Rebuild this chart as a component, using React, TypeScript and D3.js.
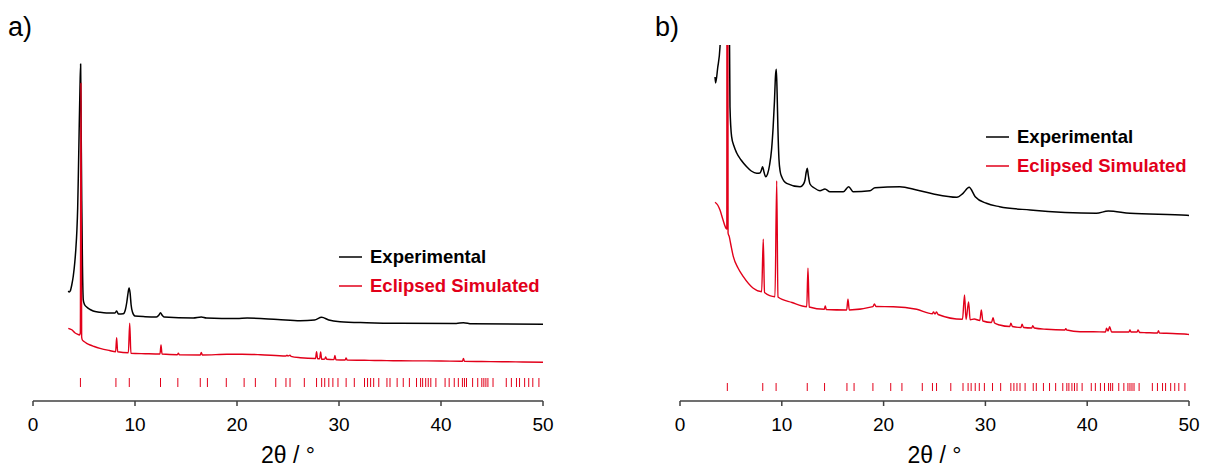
import React from "react";
import * as d3 from "d3";

// 2θ positions of the simulated reflections (tick marks)
const reflections: number[] = [
  4.65, 8.13, 9.44, 12.5, 14.2, 16.4, 17.1, 18.95, 20.7, 21.8, 23.8, 24.8, 25.2, 26.6,
  27.8, 28.3, 28.6, 29.0, 29.4, 29.9, 30.7, 31.5, 32.5, 32.8, 33.1, 33.4, 33.9, 34.7, 35.0,
  35.7, 36.3, 36.9, 37.6, 38.0, 38.2, 38.5, 38.75, 39.0, 39.5, 40.4, 40.8, 41.3, 41.7, 42.1,
  42.3, 42.5, 43.1, 43.6, 44.0, 44.2, 44.4, 44.6, 45.1, 46.4, 46.9, 47.4, 47.7, 48.2, 48.6,
  49.0, 49.6,
];

// Panel a) experimental pattern [2θ, intensity a.u.]
const expA: [number, number][] = [
  [3.46, 1100], [3.55, 1090], [3.65, 1100], [3.8, 1160], [3.95, 1250], [4.1, 1390], [4.2, 1520],
  [4.3, 1700], [4.38, 1930], [4.45, 2280], [4.52, 2680], [4.6, 3100], [4.67, 3370], [4.72, 2750],
  [4.78, 2000], [4.85, 1350], [4.93, 1010], [5.05, 965], [5.26, 940], [5.6, 915], [5.9, 900],
  [6.5, 888], [7.2, 880], [8.04, 880], [8.2, 900], [8.37, 870], [8.85, 872], [9.05, 910],
  [9.2, 990], [9.32, 1080], [9.42, 1130], [9.52, 1080], [9.62, 960], [9.75, 890], [10.0, 850],
  [11.0, 843], [12.1, 840], [12.35, 860], [12.5, 882], [12.65, 860], [12.85, 840], [15.7, 830],
  [16.5, 840], [17.0, 830], [20.0, 825], [21.0, 830], [24.0, 815], [26.2, 803], [27.6, 810],
  [28.3, 837], [29.0, 810], [30.1, 793], [32.7, 783], [36.0, 777], [41.5, 775], [42.2, 783],
  [43.0, 772], [50.0, 767],
];

// Panel a) eclipsed simulated pattern
const simA: [number, number][] = [
  [3.46, 727], [3.8, 712], [4.1, 683], [4.35, 668], [4.55, 660], [4.64, 680], [4.7, 3177],
  [4.77, 640], [4.84, 610], [5.0, 595], [5.26, 577], [5.6, 560], [6.0, 545], [6.57, 527],
  [7.5, 505], [8.1, 493], [8.2, 633], [8.3, 492], [9.35, 483], [9.48, 777], [9.6, 477],
  [11.0, 473], [12.45, 470], [12.55, 560], [12.65, 470], [14.15, 462], [14.25, 477], [14.35, 461],
  [16.4, 460], [16.5, 485], [16.6, 460], [19.0, 467], [20.5, 468], [22.3, 463], [24.8, 450],
  [24.9, 458], [25.0, 449], [25.2, 457], [25.3, 447], [26.2, 433], [27.7, 425], [27.8, 493],
  [27.9, 423], [28.1, 422], [28.2, 490], [28.3, 418], [28.6, 420], [28.7, 440], [28.8, 418],
  [29.5, 414], [29.6, 455], [29.7, 413], [30.6, 410], [30.7, 430], [30.8, 409], [32.5, 407],
  [33.5, 405], [34.7, 404], [36.0, 402], [38.0, 401], [40.0, 400], [42.1, 397], [42.2, 425],
  [42.3, 397], [44.0, 395], [46.0, 393], [48.0, 390], [50.0, 387],
];

// Panel b) experimental pattern
const expB: [number, number][] = [
  [3.44, 3240], [3.5, 3180], [3.7, 3330], [3.93, 3543], [4.1, 4200], [4.4, 6000], [4.65, 9000],
  [4.8, 4500], [4.91, 2943], [5.07, 2643], [5.3, 2550], [5.57, 2480], [6.0, 2410], [6.55, 2343],
  [7.0, 2300], [7.53, 2277], [7.86, 2280], [8.0, 2310], [8.12, 2343], [8.25, 2290], [8.42, 2243],
  [8.6, 2270], [8.8, 2360], [9.0, 2520], [9.15, 2740], [9.28, 3000], [9.38, 3250], [9.46, 3317],
  [9.54, 3080], [9.62, 2720], [9.72, 2420], [9.85, 2290], [9.99, 2243], [10.48, 2177],
  [11.8, 2143], [12.1, 2165], [12.28, 2210], [12.4, 2290], [12.5, 2327], [12.6, 2260],
  [12.77, 2170], [13.2, 2130], [13.75, 2103], [14.24, 2120], [14.73, 2093], [16.04, 2093],
  [16.57, 2143], [17.0, 2093], [18.66, 2103], [19.15, 2133], [21.6, 2143], [23.25, 2110],
  [24.9, 2070], [27.2, 2037], [27.8, 2077], [28.4, 2137], [29.0, 2043], [30.1, 1977],
  [31.4, 1943], [34.4, 1910], [40.9, 1877], [42.07, 1900], [44.2, 1877], [49.8, 1857],
  [50.0, 1855],
];

// Panel b) eclipsed simulated pattern
const simB: [number, number][] = [
  [3.44, 1987], [3.7, 1960], [3.93, 1910], [4.2, 1820], [4.52, 1727], [4.6, 1720], [4.65, 14000],
  [4.72, 1680], [4.84, 1643], [5.0, 1560], [5.24, 1443], [5.7, 1330], [6.22, 1243], [7.2, 1127],
  [8.02, 1093], [8.18, 1617], [8.3, 1085], [9.33, 1043], [9.5, 2203], [9.62, 1040], [11.0, 985],
  [12.45, 943], [12.57, 1327], [12.69, 940], [14.17, 917], [14.27, 950], [14.37, 915],
  [16.37, 910], [16.5, 1017], [16.63, 910], [18.95, 943], [19.1, 970], [19.25, 945],
  [20.95, 943], [23.25, 917], [24.8, 873], [24.9, 890], [25.05, 870], [25.2, 890], [25.35, 865],
  [27.75, 817], [27.95, 1060], [28.1, 815], [28.35, 990], [28.5, 813], [28.9, 820], [29.45, 805],
  [29.6, 910], [29.75, 800], [30.6, 785], [30.75, 833], [30.9, 780], [31.4, 760], [32.4, 745],
  [32.5, 777], [32.65, 745], [33.5, 735], [33.6, 767], [33.75, 735], [34.55, 730], [34.65, 753],
  [34.8, 730], [36.0, 717], [37.8, 710], [37.9, 723], [38.0, 710], [39.3, 693], [40.6, 693],
  [41.8, 690], [41.9, 727], [42.05, 700], [42.2, 743], [42.4, 690], [44.1, 690], [44.2, 710],
  [44.3, 690], [44.9, 690], [45.0, 710], [45.15, 685], [45.8, 683], [46.9, 680], [47.0, 703],
  [47.1, 680], [47.8, 677], [49.8, 667], [50.0, 665],
];

const xTicks: number[] = [0, 10, 20, 30, 40, 50];
const seriesNames: string[] = ["Experimental", "Eclipsed Simulated"];
const panelLabels: string[] = ["a)", "b)"];

const BLACK = "#000000";
const RED = "#e2001a";
const AXIS = "#404040";
const FONT = "'Liberation Sans', Arial, Helvetica, sans-serif";

type PanelProps = {
  id: string;
  label: string;
  x0: number;
  x1: number;
  exp: [number, number][];
  sim: [number, number][];
  tickTop: number;
  tickBottom: number;
  legendX: number;
  legendY: number;
  labelX: number;
};

function Panel(p: PanelProps) {
  const axisY = 401;
  const top = 45;
  const x = d3.scaleLinear().domain([0, 50]).range([p.x0, p.x1]);
  const y = d3.scaleLinear().domain([0, 3560]).range([axisY, top]);
  const line = d3
    .line<[number, number]>()
    .x((d) => x(d[0]))
    .y((d) => y(d[1]))
    .curve(d3.curveMonotoneX);
  const clipId = `clip-${p.id}`;
  return (
    <g>
      <defs>
        <clipPath id={clipId}>
          <rect x={p.x0} y={top} width={p.x1 - p.x0 + 2} height={axisY - top} />
        </clipPath>
      </defs>
      <text x={p.labelX} y={36} fontSize={27} fontFamily={FONT} fill="#000">
        {p.label}
      </text>
      <g clipPath={`url(#${clipId})`}>
        <path d={line(p.exp) || ""} fill="none" stroke={BLACK} strokeWidth={1.5} strokeLinejoin="round" />
        <path d={line(p.sim) || ""} fill="none" stroke={RED} strokeWidth={1.4} strokeLinejoin="round" />
      </g>
      {reflections.map((r, i) => (
        <line key={i} x1={x(r)} x2={x(r)} y1={p.tickTop} y2={p.tickBottom} stroke={RED} strokeWidth={1} />
      ))}
      {/* x axis */}
      <line x1={x(0)} x2={x(50)} y1={axisY} y2={axisY} stroke={AXIS} strokeWidth={1.5} />
      {xTicks.map((t) => (
        <g key={t}>
          <line x1={x(t)} x2={x(t)} y1={axisY} y2={axisY + 5} stroke={AXIS} strokeWidth={1.5} />
          <text x={x(t)} y={431} fontSize={19} fontFamily={FONT} textAnchor="middle" fill="#000">
            {t}
          </text>
        </g>
      ))}
      <text x={(x(0) + x(50)) / 2} y={463} fontSize={23} fontFamily={FONT} textAnchor="middle" fill="#000">
        2θ / °
      </text>
      {/* legend */}
      {seriesNames.map((n, i) => (
        <g key={n}>
          <line
            x1={p.legendX}
            x2={p.legendX + 23}
            y1={p.legendY + i * 29}
            y2={p.legendY + i * 29}
            stroke={i === 0 ? BLACK : RED}
            strokeWidth={1.5}
          />
          <text
            x={p.legendX + 31}
            y={p.legendY + i * 29 + 6}
            fontSize={18.5}
            fontWeight="bold"
            fontFamily={FONT}
            fill={i === 0 ? BLACK : RED}
          >
            {n}
          </text>
        </g>
      ))}
    </g>
  );
}

export default function App() {
  return (
    <svg
      width={1206}
      height={467}
      viewBox="0 0 1206 467"
      style={{ position: "absolute", left: 0, top: 0, background: "#fff" }}
    >
      <rect width={1206} height={467} fill="#fff" />
      <Panel
        id="a"
        label={panelLabels[0]}
        x0={33}
        x1={543}
        exp={expA}
        sim={simA}
        tickTop={378}
        tickBottom={387}
        legendX={339}
        legendY={257}
        labelX={8}
      />
      <Panel
        id="b"
        label={panelLabels[1]}
        x0={680}
        x1={1189}
        exp={expB}
        sim={simB}
        tickTop={383}
        tickBottom={391}
        legendX={986}
        legendY={137}
        labelX={655}
      />
    </svg>
  );
}
